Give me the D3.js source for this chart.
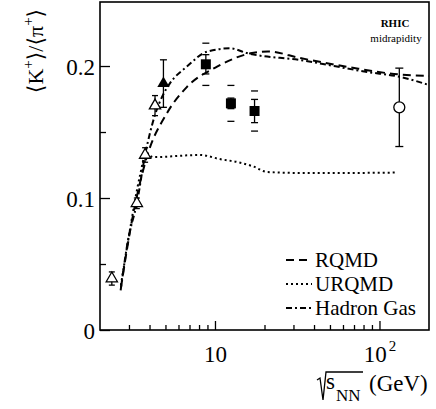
<!DOCTYPE html>
<html>
<head>
<meta charset="utf-8">
<script src="https://cdn.jsdelivr.net/npm/d3@7"></script>
<style>
body{margin:0;background:#fff;}
svg text{font-family:"Liberation Serif",Tinos,"Times New Roman","DejaVu Serif",serif !important;fill:#000;}
</style>
</head>
<body>
<svg width="436" height="409"></svg>
<script>
// K+/pi+ ratio vs sqrt(s_NN)

// open triangles (AGS)
var agsX=[2.36,3.35,3.76,4.32];
var agsY=[0.039,0.096,0.1326,0.170];
var agsErr=[0.005,0.004,0.0055,0.0076];
// filled triangle
var ftX=[4.86];
var ftY=[0.1867];
var ftErr=[0.018];
// filled squares (SPS)
var sqX=[8.8,12.5,17.4];
var sqY=[0.2013,0.1717,0.1659];
var sqStat=[0.0073,0.004,0.0088];
var sqSys=[0.016,0.0136,0.0152];
// open circle (RHIC)
var rhX=[132];
var rhY=[0.1687];
var rhErr=[0.0297];

// model curves
var rqmdX=[2.68,3.13,3.85,5.09,6.74,10.3,16.4,21,33,66.4,134,200];
var rqmdY=[0.032,0.083,0.131,0.164,0.184,0.1995,0.2096,0.211,0.206,0.199,0.1935,0.1924];
var urqmdX=[2.68,3.04,3.5,3.81,4.2,8.1,10.7,14,17,20.8,33,66.4,128];
var urqmdY=[0.034,0.0758,0.117,0.134,0.131,0.1326,0.1295,0.127,0.124,0.1197,0.119,0.119,0.1193];
var hgX=[2.67,2.96,3.35,3.76,4.32,4.83,5.33,6.74,8.92,12.4,15.6,33,84,134,200];
var hgY=[0.030,0.068,0.096,0.1326,0.163,0.178,0.187,0.1995,0.2108,0.2134,0.2098,0.2045,0.1955,0.1917,0.1856];

var xMinor=[3,4,5,6,7,8,9,20,30,40,50,60,70,80,90];
var xMajor=[10,100];
var yMajor=[0,0.1,0.2];
var yMinor=[0.05,0.15];

var legendNames=["RQMD","URQMD","Hadron Gas"];
var legendDash=["8,5","2,3","6,3,2,3"];

var mLeft=100,mRight=429,mTop=2,mBottom=330;
var serif="Liberation Serif, Tinos, Times New Roman, DejaVu Serif, serif";

var svg=d3.select("svg").attr("font-family",serif);

var x=d3.scaleLog().domain([2,200]).range([mLeft,mRight]);
var y=d3.scaleLinear().domain([0,0.2485]).range([mBottom,mTop]);

// frame
svg.append("rect")
    .attr("x",mLeft).attr("y",mTop)
    .attr("width",mRight-mLeft).attr("height",mBottom-mTop)
    .attr("fill","none").attr("stroke","#000").attr("stroke-width",1.6);

// axes with inward ticks
function styleAxis(g){
    g.attr("font-family",serif);
    g.select(".domain").remove();
    g.selectAll(".tick line").attr("stroke","#000").attr("stroke-width",1.3);
}
svg.append("g").attr("transform","translate(0,"+mBottom+")")
    .call(d3.axisBottom(x).tickValues(xMinor).tickSize(-5).tickFormat(""))
    .call(styleAxis);
var xa=svg.append("g").attr("transform","translate(0,"+mBottom+")")
    .call(d3.axisBottom(x).tickValues(xMajor).tickSize(-9).tickPadding(16).tickFormat(function(d){return "10";}))
    .call(styleAxis);
xa.selectAll("text").attr("font-size",23).attr("fill","#000");
xa.selectAll(".tick").filter(function(d){return d==100;}).select("text")
    .append("tspan").attr("dy",-11).attr("font-size",15).attr("dx",2).text("2");

svg.append("g").attr("transform","translate("+mLeft+",0)")
    .call(d3.axisLeft(y).tickValues(yMinor).tickSize(-6).tickFormat(""))
    .call(styleAxis);
var ya=svg.append("g").attr("transform","translate("+mLeft+",0)")
    .call(d3.axisLeft(y).tickValues(yMajor).tickSize(-10).tickPadding(5).tickFormat(function(d){return d==0?"0":d3.format(".1f")(d);}))
    .call(styleAxis);
ya.selectAll("text").attr("font-size",23).attr("fill","#000").attr("dy","0.35em");

// curves
var line=d3.line().x(function(d){return x(d[0]);}).y(function(d){return y(d[1]);}).curve(d3.curveMonotoneX);
function drawCurve(xs,ys,dash){
    svg.append("path")
        .datum(d3.zip(xs,ys))
        .attr("d",line)
        .attr("fill","none")
        .attr("stroke","#000")
        .attr("stroke-width",2)
        .attr("stroke-dasharray",dash);
}
drawCurve(rqmdX,rqmdY,legendDash[0]);
drawCurve(urqmdX,urqmdY,legendDash[1]);
drawCurve(hgX,hgY,legendDash[2]);

// error bars
function errBars(xs,ys,es,cap){
    var g=svg.append("g").attr("stroke","#000").attr("stroke-width",1.3);
    xs.forEach(function(v,i){
        var cx=x(v),y0=y(ys[i]-es[i]),y1=y(ys[i]+es[i]);
        g.append("line").attr("x1",cx).attr("x2",cx).attr("y1",y0).attr("y2",y1);
        g.append("line").attr("x1",cx-cap).attr("x2",cx+cap).attr("y1",y0).attr("y2",y0);
        g.append("line").attr("x1",cx-cap).attr("x2",cx+cap).attr("y1",y1).attr("y2",y1);
    });
}
function sysMarks(xs,ys,es){
    var g=svg.append("g").attr("stroke","#000").attr("stroke-width",1.3);
    xs.forEach(function(v,i){
        var cx=x(v);
        [ys[i]-es[i],ys[i]+es[i]].forEach(function(yy){
            g.append("line").attr("x1",cx-3.5).attr("x2",cx+3.5).attr("y1",y(yy)).attr("y2",y(yy));
        });
    });
}
errBars(agsX,agsY,agsErr,3);
errBars(ftX,ftY,ftErr,3.5);
errBars(sqX,sqY,sqStat,3.5);
sysMarks(sqX,sqY,sqSys);
errBars(rhX,rhY,rhErr,4);

// markers
var tri=d3.symbol().type(d3.symbolTriangle).size(55);
svg.selectAll(".ags").data(d3.zip(agsX,agsY)).enter().append("path")
    .attr("d",tri)
    .attr("transform",function(d){return "translate("+x(d[0])+","+y(d[1])+")";})
    .attr("fill","#fff").attr("stroke","#000").attr("stroke-width",1.3);
svg.selectAll(".ft").data(d3.zip(ftX,ftY)).enter().append("path")
    .attr("d",d3.symbol().type(d3.symbolTriangle).size(65))
    .attr("transform",function(d){return "translate("+x(d[0])+","+y(d[1])+")";})
    .attr("fill","#000");
svg.selectAll(".sq").data(d3.zip(sqX,sqY)).enter().append("path")
    .attr("d",d3.symbol().type(d3.symbolSquare).size(100))
    .attr("transform",function(d){return "translate("+x(d[0])+","+y(d[1])+")";})
    .attr("fill","#000");
svg.selectAll(".rh").data(d3.zip(rhX,rhY)).enter().append("circle")
    .attr("cx",function(d){return x(d[0]);})
    .attr("cy",function(d){return y(d[1]);})
    .attr("r",5.5)
    .attr("fill","#fff").attr("stroke","#000").attr("stroke-width",1.3);

// legend
var leg=svg.append("g");
legendNames.forEach(function(name,i){
    var yy=260+i*24;
    leg.append("line").attr("x1",286).attr("x2",312).attr("y1",yy).attr("y2",yy)
        .attr("stroke","#000").attr("stroke-width",2).attr("stroke-dasharray",legendDash[i]);
    leg.append("text").attr("x",315).attr("y",yy+7).attr("font-size",21).text(name);
});

// RHIC label
svg.append("text").attr("x",395).attr("y",27).attr("text-anchor","middle")
    .attr("font-size",11).attr("font-weight","bold").text("RHIC");
svg.append("text").attr("x",396).attr("y",42).attr("text-anchor","middle")
    .attr("font-size",11).text("midrapidity");

// y label
var yl=svg.append("text").attr("transform","translate(43,51) rotate(-90)")
    .attr("text-anchor","middle").attr("font-size",22);
yl.append("tspan").text("\u27E8K");
yl.append("tspan").attr("dy",-10).attr("font-size",15).text("+");
yl.append("tspan").attr("dy",10).text("\u27E9/\u27E8\u03C0");
yl.append("tspan").attr("dy",-10).attr("font-size",15).text("+");
yl.append("tspan").attr("dy",10).text("\u27E9");

// x label
svg.append("path").attr("d","M317,380 L320,378 L323,400 L326,372 L363,372")
    .attr("fill","none").attr("stroke","#000").attr("stroke-width",1.3);
svg.append("text").attr("x",326).attr("y",389).attr("font-size",23).text("s");
svg.append("text").attr("x",336).attr("y",401).attr("font-size",17).text("NN");
svg.append("text").attr("x",369).attr("y",391).attr("font-size",23).text("(GeV)");
</script>
</body>
</html>
